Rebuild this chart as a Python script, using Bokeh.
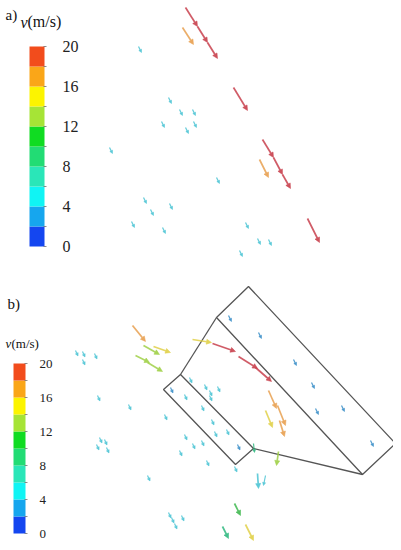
from bokeh.plotting import figure
from bokeh.models import Range1d, Arrow, NormalHead, ColumnDataSource
from bokeh.core.properties import value, field
from bokeh.embed import file_html
from bokeh.resources import INLINE

# ---------------- data ----------------
# colour scale (m/s) : band edges and tick labels
band_edges = [0, 2, 4, 6, 8, 10, 12, 14, 16, 18, 20]
tick_values = [0, 4, 8, 12, 16, 20]
tick_labels = ["0", "4", "8", "12", "16", "20"]
bar_palette = ["#1446f0", "#16a6ee", "#10f4f4", "#2ae6b8", "#22dc74",
               "#10dc22", "#a6e436", "#fcf400", "#faa618", "#f24c1c"]
arrow_palette = ["#2a4ad8", "#3a8ec8", "#4cc4d4", "#40c8b0", "#30b880",
                 "#40b850", "#a0d048", "#e0d048", "#e8a050", "#c8404c"]

# panel a) vectors: tail position, displacement, speed (m/s)
xa = [185, 197, 207, 182, 233, 262, 273, 282, 259, 307,
      138, 168, 179, 192, 161, 193, 185, 109, 216, 143, 150, 169, 131, 162, 245, 257, 268, 239]
ya = [7, 26, 42, 27, 87, 139, 157, 174, 159, 218,
      46, 97, 109, 109, 121, 121, 127, 147, 177, 197, 209, 203, 221, 227, 222, 238, 239, 250]
ua = [12, 10, 10, 11, 14, 11, 9, 8, 9, 12,
      3, 3, 3, 3, 3, 3, 3, 3, 3, 3, 3, 3, 3, 3, 3, 3, 3, 3]
va = [19, 16, 16, 17, 23, 18, 17, 14, 18, 24,
      6, 6, 6, 6, 6, 6, 6, 6, 6, 6, 6, 6, 6, 6, 6, 6, 6, 6]
sa = [19.2, 19.0, 19.0, 16.5, 19.1, 19.0, 19.0, 18.8, 16.5, 19.0,
      5.2, 5.0, 5.1, 5.0, 5.2, 5.1, 5.0, 5.3, 5.0, 5.1, 5.2, 5.0, 5.1, 5.0, 5.2, 5.1, 5.0, 5.2]

# panel b) vectors
xb = [132, 143, 153, 135, 147, 192, 212, 238, 255, 268, 277, 265, 279, 253, 278, 234, 222, 245, 257, 265,
      228, 258, 293, 311, 315, 341, 370,
      75, 82, 82, 94, 97, 128, 164, 99, 104, 96, 106, 147,
      189, 170, 184, 204, 209, 217, 209, 201, 211, 226, 214, 184, 192, 201, 179, 237, 206,
      234, 168, 171, 174, 181]
yb = [325, 345, 346, 355, 362, 339, 343, 356, 367, 390, 405, 410, 420, 443, 451, 503, 526, 524, 473, 475,
      315, 332, 359, 382, 408, 405, 440,
      350, 351, 359, 353, 395, 404, 414, 437, 439, 444, 447, 475,
      377, 387, 394, 384, 390, 386, 395, 405, 419, 429, 431, 434, 443, 440, 450, 444, 460,
      466, 512, 517, 523, 515]
ub = [13, 16, 17, 14, 15, 19, 23, 19, 16, 8, 8, 7, 5, 1, -2, 6, 6, 8, 1, -2,
      3, 3, 3, 3, 3, 3, 3,
      2.5, 2.5, 2.5, 2.5, 2.5, 2.5, 2.5, 2.5, 2.5, 2.5, 2.5, 2.5,
      2.5, 2.5, 2.5, 2.5, 2.5, 2.5, 2.5, 2.5, 2.5, 2.5, 2.5, 2.5, 2.5, 2.5, 2.5, 2.5, 2.5,
      2.5, 2.5, 2.5, 2.5, 2.5]
vb = [16, 9, 6, 7, 9, 3, 8, 12, 14, 18, 20, 17, 16, 9, 14, 12, 12, 16, 15, 10,
      6, 6, 6, 6, 6, 6, 6,
      5.5, 5.5, 5.5, 5.5, 5.5, 5.5, 5.5, 5.5, 5.5, 5.5, 5.5, 5.5,
      5.5, 5.5, 5.5, 5.5, 5.5, 5.5, 5.5, 5.5, 5.5, 5.5, 5.5, 5.5, 5.5, 5.5, 5.5, 5.5, 5.5,
      5.5, 5.5, 5.5, 5.5, 5.5]
sb = [17.0, 13.5, 15.0, 13.0, 13.0, 15.0, 18.5, 19.0, 19.0, 17.8, 17.0, 15.0, 16.2, 9.0, 12.5, 10.5, 9.5, 15.5, 4.5, 4.5,
      3.2, 3.0, 3.1, 3.0, 3.2, 3.1, 3.0,
      5.0, 5.1, 5.0, 5.2, 5.0, 5.1, 5.0, 5.2, 5.0, 5.1, 5.0, 5.2,
      4.8, 3.8, 5.0, 5.1, 5.0, 4.9, 5.2, 5.0, 5.1, 5.0, 4.9, 5.0, 5.1, 5.2, 5.0, 3.9, 5.0,
      5.0, 5.1, 5.0, 5.2, 5.0]

# panel b) outline of the structure
zone_x = [248, 395, 362, 216]
zone_y = [286, 443, 474, 317]
rect_x = [180, 253, 235, 163]
rect_y = [374, 448, 464, 389]
link_xs = [[216, 180], [253, 362]]
link_ys = [[317, 374], [448, 474]]

# ---------------- figure ----------------
W, H = 393, 542
p = figure(width=W, height=H, x_range=Range1d(0, W), y_range=Range1d(H, 0),
           output_backend="svg", toolbar_location=None, min_border=0,
           x_axis_location=None, y_axis_location=None)
p.grid.visible = False
p.outline_line_color = None

SERIF = value("Liberation Serif")


def band(s):
    return min(int(s // 2), 9)


def colorbar(x0, x1, y_bottom, scale, label_x, fsize):
    top = [y_bottom - band_edges[i + 1] * scale for i in range(10)]
    bot = [y_bottom - band_edges[i] * scale for i in range(10)]
    p.quad(left=[x0] * 10, right=[x1] * 10, top=top, bottom=bot,
           fill_color=bar_palette, line_color=None)
    ty = [y_bottom - e * scale for e in band_edges]
    p.segment(x0=[x1 - 1] * len(ty), x1=[x1 + 2] * len(ty), y0=ty, y1=ty,
              line_color="#707070", line_width=0.8)
    p.text(x=[label_x] * len(tick_values),
           y=[y_bottom - t * scale for t in tick_values],
           text=tick_labels, text_font=SERIF, text_font_size=f"{fsize}px",
           text_baseline="middle", text_align="left", text_color="#222222")


def arrows(xs, ys, us, vs, ss):
    cols = [arrow_palette[band(s)] for s in ss]
    big = [abs(u) + abs(v) > 12 for u, v in zip(us, vs)]
    src = ColumnDataSource(dict(
        x0=xs, y0=ys,
        x1=[x + u for x, u in zip(xs, us)],
        y1=[y + v for y, v in zip(ys, vs)],
        color=cols,
        lw=[1.7 if b else 1.2 for b in big],
        hs=[5 if b else 3 for b in big],
    ))
    head = NormalHead(size=field("hs"), fill_color=field("color"),
                      line_color=field("color"), line_width=0.5, fill_alpha=0.9)
    p.add_layout(Arrow(source=src, x_start="x0", y_start="y0", x_end="x1", y_end="y1",
                       line_color=field("color"), line_width=field("lw"),
                       line_alpha=0.85, end=head))


# panel a
p.text(x=[5], y=[14], text=["a)"], text_font=SERIF, text_font_size="15px",
       text_baseline="middle", text_color="#111111")
p.text(x=[20], y=[22], text=["v"], text_font=SERIF, text_font_style="italic",
       text_font_size="16px", text_baseline="middle", text_color="#111111")
p.text(x=[27], y=[21], text=["(m/s)"], text_font=SERIF,
       text_font_size="16px", text_baseline="middle", text_color="#111111")
colorbar(29, 44, 246, 10, 62, 16)
arrows(xa, ya, ua, va, sa)

# panel b
p.text(x=[7], y=[303], text=["b)"], text_font=SERIF, text_font_size="15px",
       text_baseline="middle", text_color="#111111")
p.text(x=[5], y=[343], text=["v"], text_font=SERIF, text_font_style="italic",
       text_font_size="13px", text_baseline="middle", text_color="#111111")
p.text(x=[11], y=[343], text=["(m/s)"], text_font=SERIF,
       text_font_size="13px", text_baseline="middle", text_color="#111111")
colorbar(13, 25, 533, 8.5, 39, 13)

p.patches(xs=[zone_x, rect_x], ys=[zone_y, rect_y], fill_color=None,
          line_color="#555555", line_width=1.3)
p.multi_line(xs=link_xs, ys=link_ys, line_color="#555555", line_width=1.3)
arrows(xb, yb, ub, vb, sb)

open("out.html", "w").write(file_html(p, INLINE))
